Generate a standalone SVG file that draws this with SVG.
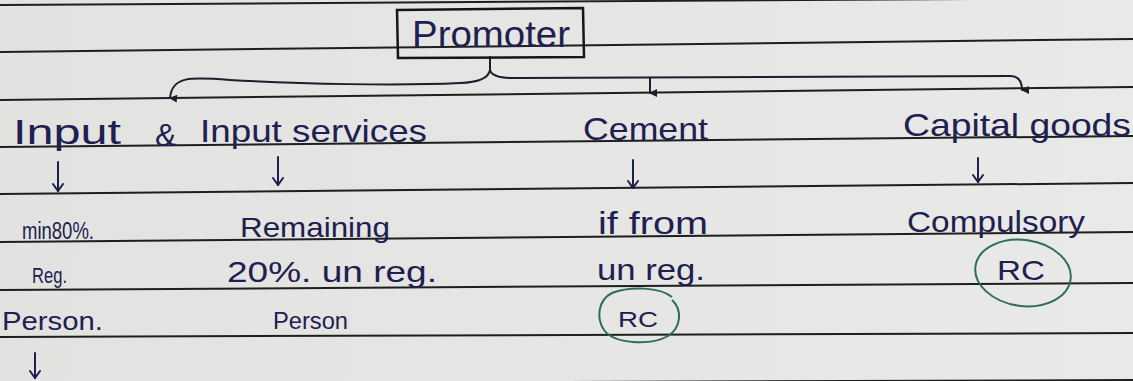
<svg xmlns="http://www.w3.org/2000/svg" width="1133" height="381" viewBox="0 0 1133 381">
<defs>
<style>
.rule{stroke:#1e1e1e;stroke-width:2;fill:none}
.ink{font-family:"Liberation Sans",Arial,sans-serif;fill:#1d2050}
.con{stroke:#1d1d2e;stroke-width:2;fill:none;stroke-linecap:round}
.arr{stroke:#1d2050;stroke-width:2;fill:none;stroke-linecap:round}
.rc{stroke:#2f6e56;stroke-width:2;fill:none}
</style>
<marker id="fh" viewBox="0 0 10 10" refX="5" refY="8" markerWidth="10" markerHeight="10" markerUnits="userSpaceOnUse" orient="auto-start-reverse">
<path d="M1,1 L9,1 L5,9 Z" fill="#1d1d2e"/>
</marker>
<marker id="vh" viewBox="0 0 12 10" refX="6" refY="9" markerWidth="12" markerHeight="10" markerUnits="userSpaceOnUse" orient="0">
<path d="M1,2 L6,9 L11,2" fill="none" stroke="#1d2050" stroke-width="2" stroke-linecap="round"/>
</marker>
<linearGradient id="paper" x1="0" y1="0" x2="1" y2="0">
<stop offset="0" stop-color="#e2e2e0"/>
<stop offset="1" stop-color="#e9e9e7"/>
</linearGradient>
</defs>
<rect width="1133" height="381" fill="url(#paper)"/>
<g id="ruled-lines">
<line class="rule" x1="0" y1="5" x2="1133" y2="-2"/>
<line class="rule" x1="0" y1="52" x2="1133" y2="39"/>
<line class="rule" x1="0" y1="100" x2="1133" y2="87"/>
<line class="rule" x1="0" y1="147" x2="1133" y2="136"/>
<line class="rule" x1="0" y1="194" x2="1133" y2="183"/>
<line class="rule" x1="0" y1="242" x2="1133" y2="232"/>
<line class="rule" x1="0" y1="290" x2="1133" y2="283"/>
<line class="rule" x1="0" y1="337" x2="1133" y2="333"/>
<line class="rule" x1="0" y1="384" x2="1133" y2="380"/>
</g>
<g id="connectors">
<path class="con" d="M490,57 L490,70 Q488,82 460,83 C400,86 300,84 230,80 C190,77 172,76 170,98" marker-end="url(#fh)"/>
<path class="con" d="M490,70 Q492,79 520,78 L1010,76 Q1022,76 1022,90" marker-end="url(#fh)"/>
<path class="con" d="M650,78 L650,93" marker-end="url(#fh)"/>
<path class="arr" d="M58,162 L58,191" marker-end="url(#vh)"/>
<path class="arr" d="M278,157 L278,185" marker-end="url(#vh)"/>
<path class="arr" d="M633,160 L633,188" marker-end="url(#vh)"/>
<path class="arr" d="M978,158 L978,182" marker-end="url(#vh)"/>
<path class="arr" d="M35,353 L35,378" marker-end="url(#vh)"/>
</g>
<g id="promoter">
<path d="M397,10 L583,8 L584,57 L398,58 Z" fill="none" stroke="#151515" stroke-width="2.5"/>
<text class="ink" x="412" y="47" font-size="36" textLength="158" lengthAdjust="spacingAndGlyphs">Promoter</text>
</g>
<g id="input">
<text class="ink" x="13" y="144" font-size="35" textLength="108" lengthAdjust="spacingAndGlyphs">Input</text>
<text class="ink" x="155" y="146" font-size="32">&amp;</text>
<text class="ink" x="200" y="142" font-size="32" textLength="227" lengthAdjust="spacingAndGlyphs">Input services</text>
</g>
<g id="cement">
<text class="ink" x="583" y="140" font-size="32" textLength="125" lengthAdjust="spacingAndGlyphs">Cement</text>
</g>
<g id="capital-goods">
<text class="ink" x="903" y="136" font-size="32" textLength="228" lengthAdjust="spacingAndGlyphs">Capital goods</text>
</g>
<g id="min80">
<text class="ink" x="22" y="239" font-size="23" textLength="72" lengthAdjust="spacingAndGlyphs">min80%.</text>
<text class="ink" x="32" y="283" font-size="22" textLength="35" lengthAdjust="spacingAndGlyphs">Reg.</text>
<text class="ink" x="2" y="330" font-size="25" textLength="101" lengthAdjust="spacingAndGlyphs">Person.</text>
</g>
<g id="remaining">
<text class="ink" x="240" y="237" font-size="28" textLength="150" lengthAdjust="spacingAndGlyphs">Remaining</text>
<text class="ink" x="227" y="282" font-size="30" textLength="210" lengthAdjust="spacingAndGlyphs">20%. un reg.</text>
<text class="ink" x="273" y="329" font-size="24" textLength="75" lengthAdjust="spacingAndGlyphs">Person</text>
</g>
<g id="if-from">
<text class="ink" x="598" y="234" font-size="32" textLength="110" lengthAdjust="spacingAndGlyphs">if from</text>
<text class="ink" x="597" y="280" font-size="30" textLength="108" lengthAdjust="spacingAndGlyphs">un reg.</text>
<path class="rc" d="M672,297 C660,287 630,286 612,293 C598,300 596,318 604,330 C614,344 650,346 668,336 C682,327 682,309 672,300"/>
<text class="ink" x="618" y="327" font-size="22" textLength="40" lengthAdjust="spacingAndGlyphs">RC</text>
</g>
<g id="compulsory">
<text class="ink" x="907" y="232" font-size="30" textLength="178" lengthAdjust="spacingAndGlyphs">Compulsory</text>
<ellipse class="rc" cx="1023" cy="273" rx="48" ry="33" transform="rotate(8 1023 273)"/>
<text class="ink" x="997" y="280" font-size="28" textLength="48" lengthAdjust="spacingAndGlyphs">RC</text>
</g>
</svg>
